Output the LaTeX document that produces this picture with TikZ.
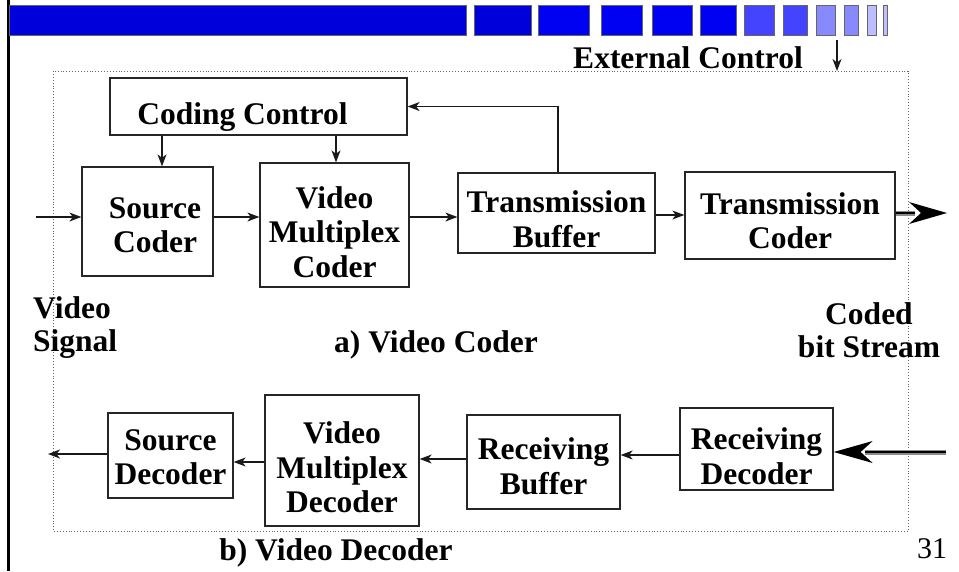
\documentclass[tikz,border=0pt]{standalone}
\usepackage{fontspec}
\setmainfont{Liberation Serif}
\usetikzlibrary{arrows.meta}
\definecolor{barDeep}{RGB}{0,0,218}
\definecolor{barMid}{RGB}{0,0,242}
\definecolor{barLight}{RGB}{68,68,255}
\definecolor{barPale}{RGB}{136,136,255}
\definecolor{barFaint}{RGB}{190,190,255}
% centred lines of a block, set a little below the block's middle
\newcommand\blocklines[2]{\raisebox{-#1}[\height][\depth]{\begin{tabular}{@{}c@{}}#2\end{tabular}}}
\begin{document}
\begin{tikzpicture}[x=1pt,y=-1pt,
  blk/.style={draw=black!85, line width=1.3pt, inner sep=0pt,
    font=\bfseries\fontsize{31.5}{34.5}\selectfont},
  lbl/.style={inner sep=0pt, font=\bfseries\fontsize{31.5}{32.5}\selectfont},
  conn/.style={line width=1.2pt, draw=black!90,
    -{Stealth[length=12pt,width=9pt,inset=3.5pt]}},
  tile/.style={draw=black!60, line width=0.8pt}]
\useasboundingbox (0,0) rectangle (959,571);

% header strip
\fill[black] (6.5,0) rectangle (9.5,571);
\draw[tile, fill=barDeep] (9,5) rectangle (466,35);
\draw[tile, fill=barDeep] (474,5) rectangle (531,35);
\foreach \a/\b in {538/589, 601/642, 652/692, 700/736}
  \draw[tile, fill=barMid] (\a,5) rectangle (\b,35);
\foreach \a/\b in {744/774, 783/807}
  \draw[tile, fill=barLight] (\a,5) rectangle (\b,35);
\foreach \a/\b in {816/835, 844/858}
  \draw[tile, fill=barPale] (\a,5) rectangle (\b,35);
\foreach \a/\b in {867/876, 883/887}
  \draw[tile, fill=barFaint] (\a,5) rectangle (\b,35);

% dotted frame round coder and decoder
\draw[dotted, black!60, line width=0.9pt] (53,71) rectangle (908,531);

% coder blocks
\node[blk, minimum width=297pt, minimum height=57pt] (cc) at (258.5,106.5) {\blocklines{11pt}{\hspace*{-32pt}Coding Control}};
\node[blk, minimum width=131pt, minimum height=109pt] (sc) at (147.5,221.5) {\blocklines{7pt}{\hspace*{15pt}Source\\\hspace*{15pt}Coder}};
\node[blk, minimum width=149pt, minimum height=124pt] (vmc) at (334.5,225) {\blocklines{11pt}{Video\\Multiplex\\Coder}};
\node[blk, minimum width=197pt, minimum height=80pt] (tb) at (556.5,213) {\blocklines{10pt}{Transmission\\Buffer}};
\node[blk, minimum width=210pt, minimum height=87pt] (tc) at (790,215.5) {\blocklines{9pt}{Transmission\\Coder}};

% decoder blocks
\node[blk, minimum width=125pt, minimum height=85pt] (sd) at (170.5,455.5) {\blocklines{5pt}{Source\\Decoder}};
\node[blk, minimum width=154pt, minimum height=131pt] (vmd) at (342,460.5) {\blocklines{11pt}{Video\\Multiplex\\Decoder}};
\node[blk, minimum width=153pt, minimum height=94pt] (rb) at (543.5,462) {\blocklines{8pt}{Receiving\\Buffer}};
\node[blk, minimum width=153pt, minimum height=82pt] (rd) at (756.5,449) {\blocklines{11pt}{Receiving\\Decoder}};

% labels
\node[lbl, anchor=base] (ext) at (688,68) {External Control};
\node[lbl, anchor=base west, align=left] (vsig) at (33,351) {Video\\Signal};
\node[lbl, anchor=base] (capA) at (436,352) {a) Video Coder};
\node[lbl, anchor=base, align=center] (cbs) at (869,357) {Coded\\bit Stream};
\node[lbl, anchor=base] (capB) at (336,560) {b) Video Decoder};
\node[inner sep=0pt, anchor=base, font=\fontsize{30}{30}\selectfont] (pg) at (932,558) {31};

% coder connectors
\coordinate (vin) at (36,217);
\coordinate (extTop) at (837,40);
\coordinate (extBot) at (837,71);
\draw[conn] (vin) -- (sc.west |- vin);
\draw[conn] (sc.east |- vin) -- (vmc.west |- vin);
\draw[conn] (vmc.east |- vin) -- (tb.west |- vin);
\draw[conn] (tb.east |- 0,215) -- (tc.west |- 0,215);
\draw[conn] (cc.south -| 162,0) -- (sc.north -| 162,0);
\draw[conn] (cc.south -| 336,0) -- (vmc.north -| 336,0);
\draw[conn] (tb.north -| 558,0) |- (cc.east);
\draw[conn] (extTop) -- (extBot);

% coded stream out
\coordinate (outTip) at (947,213);
\draw[line width=5pt, black!45] (tc.east |- outTip) -- (915,213);
\draw[line width=1.4pt] (tc.east |- outTip) -- (915,213);
\fill (outTip) -- ++(-38,-11) -- ++(12,11) -- ++(-12,11) -- cycle;

% coded stream in
\coordinate (inTail) at (946,452);
\draw[line width=5pt, black!45] (inTail) -- (865,452);
\draw[line width=1.4pt] (inTail) -- (865,452);
\fill (rd.east |- inTail) -- ++(39,-11) -- ++(-12,11) -- ++(12,11) -- cycle;

% decoder connectors
\coordinate (vout) at (48,454);
\draw[conn] (rd.west |- 0,455) -- (rb.east |- 0,455);
\draw[conn] (rb.west |- 0,459) -- (vmd.east |- 0,459);
\draw[conn] (vmd.west |- 0,462) -- (sd.east |- 0,462);
\draw[conn] (sd.west |- vout) -- (vout);
\end{tikzpicture}
\end{document}
